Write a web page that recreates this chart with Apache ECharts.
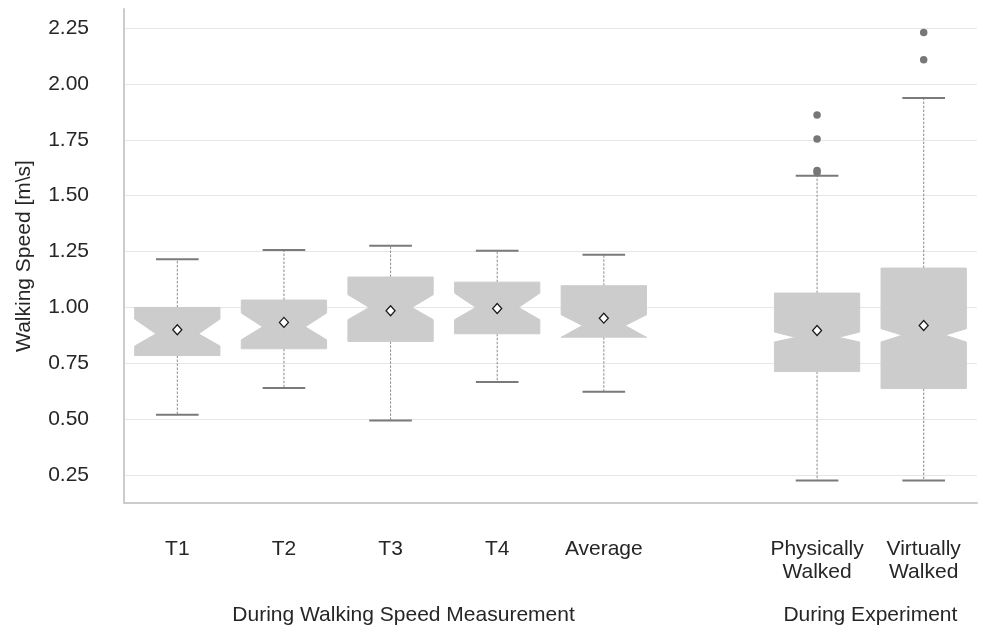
<!DOCTYPE html>
<html>
<head>
<meta charset="utf-8">
<script src="https://cdn.jsdelivr.net/npm/echarts@6/dist/echarts.min.js"></script>
<style>
html,body{margin:0;padding:0;background:#fff;}
#chart{width:982px;height:628px;}
</style>
</head>
<body>
<div id="chart"></div>
<script>
// ---- data ----
const categories = ['T1', 'T2', 'T3', 'T4', 'Average', '', 'Physically\nWalked', 'Virtually\nWalked'];
const lowWhisker  = [0.520, 0.639, 0.494, 0.666, 0.623, null, 0.226, 0.226];
const q1          = [0.785, 0.815, 0.848, 0.882, 0.867, null, 0.713, 0.637];
const notchLow    = [0.827, 0.855, 0.945, 0.945, 0.866, null, 0.845, 0.845];
const medians     = [0.882, 0.913, 1.000, 1.000, 0.919, null, 0.866, 0.876];
const notchHigh   = [0.948, 0.975, 1.057, 1.064, 0.967, null, 0.890, 0.905];
const q3          = [1.000, 1.033, 1.136, 1.113, 1.097, null, 1.064, 1.176];
const highWhisker = [1.216, 1.257, 1.276, 1.253, 1.236, null, 1.589, 1.937];
const means       = [0.900, 0.933, 0.985, 0.995, 0.952, null, 0.897, 0.919];
const outliersPhysically = [1.861, 1.753, 1.613, 1.604];
const outliersVirtually  = [2.230, 2.108];
const yTicks = [0.25, 0.50, 0.75, 1.00, 1.25, 1.50, 1.75, 2.00, 2.25];
const groupLabels = [
  { text: 'During Walking Speed Measurement', from: 'T1', to: 'Average' },
  { text: 'During Experiment', from: 'Physically\nWalked', to: 'Virtually\nWalked' }
];
const groupLabelShift = [13, 0]; // layout: horizontal nudge in px

// ---- build ----
const boxData = [];
const meanData = [];
categories.forEach((c, i) => {
  if (medians[i] == null) return;
  boxData.push([i, lowWhisker[i], q1[i], notchLow[i], medians[i], notchHigh[i], q3[i], highWhisker[i]]);
  meanData.push([i, means[i]]);
});
const outlierData = [];
outliersPhysically.forEach(v => outlierData.push([6, v]));
outliersVirtually.forEach(v => outlierData.push([7, v]));

const FONT = '"Liberation Sans", Arial, sans-serif';
const TXT = '#262626';
const FS = 21;

function renderBox(params, api) {
  const idx = api.value(0);
  const x = api.coord([idx, 0])[0];
  const bw = api.size([1, 0])[0] * 0.8;
  const y = v => api.coord([idx, v])[1];
  const lo = api.value(1), b1 = api.value(2), nlo = api.value(3), med = api.value(4),
        nhi = api.value(5), b3 = api.value(6), hi = api.value(7);
  const L = x - bw / 2, R = x + bw / 2, nL = x - bw / 4, nR = x + bw / 4;
  const cL = x - bw / 4, cR = x + bw / 4;
  const whiskerStyle = { stroke: '#8c8c8c', lineWidth: 1, lineDash: [2.5, 1.5] };
  const capStyle = { stroke: '#7a7a7a', lineWidth: 2 };
  return {
    type: 'group',
    children: [
      { type: 'line', shape: { x1: x, y1: y(b1), x2: x, y2: y(lo) }, style: whiskerStyle },
      { type: 'line', shape: { x1: x, y1: y(b3), x2: x, y2: y(hi) }, style: whiskerStyle },
      { type: 'line', shape: { x1: cL, y1: y(lo), x2: cR, y2: y(lo) }, style: capStyle },
      { type: 'line', shape: { x1: cL, y1: y(hi), x2: cR, y2: y(hi) }, style: capStyle },
      {
        type: 'polygon',
        shape: {
          points: [
            [L, y(b1)], [R, y(b1)], [R, y(nlo)], [nR, y(med)], [R, y(nhi)],
            [R, y(b3)], [L, y(b3)], [L, y(nhi)], [nL, y(med)], [L, y(nlo)]
          ]
        },
        style: { fill: '#cccccc', stroke: '#cccccc', lineWidth: 1 }
      }
    ]
  };
}

const chart = echarts.init(document.getElementById('chart'), null, { renderer: 'canvas' });
chart.setOption({
  backgroundColor: '#ffffff',
  animation: false,
  grid: { left: 124, right: 5, top: 9, bottom: 125, containLabel: false },
  xAxis: {
    type: 'category',
    data: categories,
    boundaryGap: true,
    axisLine: { show: true, lineStyle: { color: '#cccccc', width: 2 } },
    axisTick: { show: false },
    splitLine: { show: false },
    axisLabel: { color: TXT, fontSize: FS, fontFamily: FONT, margin: 34, lineHeight: 23.5, interval: 0 }
  },
  yAxis: {
    type: 'value',
    min: 0.125,
    max: 2.335,
    name: 'Walking Speed [m\\s]',
    nameLocation: 'middle',
    nameGap: 89,
    nameTextStyle: { color: TXT, fontSize: FS, fontFamily: FONT },
    axisLine: { show: true, lineStyle: { color: '#cccccc', width: 2 } },
    axisTick: { show: false, customValues: yTicks },
    axisLabel: {
      customValues: yTicks,
      color: TXT, fontSize: FS, fontFamily: FONT, margin: 35,
      formatter: v => v.toFixed(2)
    },
    splitLine: { show: true, lineStyle: { color: '#e6e6e6', width: 1 } }
  },
  series: [
    {
      type: 'custom',
      renderItem: renderBox,
      data: boxData,
      encode: { x: 0, y: [1, 2, 3, 4, 5, 6, 7] },
      z: 2
    },
    {
      type: 'scatter',
      data: meanData,
      symbol: 'diamond',
      symbolSize: [9, 10],
      itemStyle: { color: '#ffffff', borderColor: '#1a1a1a', borderWidth: 1.3, opacity: 1 },
      z: 5
    },
    {
      type: 'scatter',
      data: outlierData,
      symbol: 'circle',
      symbolSize: 7.5,
      itemStyle: { color: '#777777', opacity: 1 },
      z: 4
    }
  ]
});

// group labels under the category labels
const gEls = groupLabels.map((g, k) => {
  const x1 = chart.convertToPixel({ xAxisIndex: 0 }, g.from);
  const x2 = chart.convertToPixel({ xAxisIndex: 0 }, g.to);
  return {
    type: 'text',
    x: (x1 + x2) / 2 + groupLabelShift[k],
    y: 615,
    style: {
      text: g.text, fill: TXT, font: FS + 'px ' + FONT,
      align: 'center', verticalAlign: 'middle'
    }
  };
});
chart.setOption({ graphic: gEls });
</script>
</body>
</html>
